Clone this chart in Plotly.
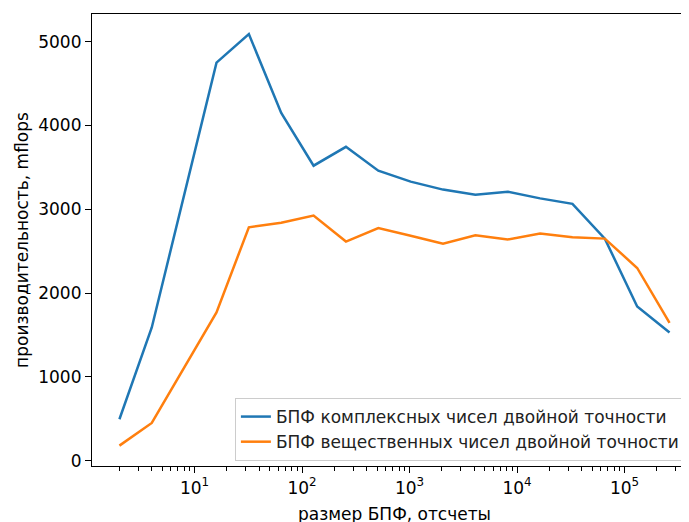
import numpy as np
import plotly.graph_objects as go

fft_sizes = [2, 4, 16, 32, 64, 128, 256, 512, 1024, 2048, 4096, 8192,
             16384, 32768, 65536, 131072, 262144]
complex_mflops = [495, 1590, 4750, 5090, 4150, 3520, 3745, 3460, 3330, 3235,
                  3175, 3210, 3130, 3065, 2650, 1840, 1530]
real_mflops = [180, 450, 1770, 2785, 2840, 2925, 2615, 2775, 2685, 2590,
               2690, 2640, 2710, 2665, 2650, 2300, 1645]

series_names = ["БПФ комплексных чисел двойной точности",
                "БПФ вещественных чисел двойной точности"]
x_tickvals = [10, 100, 1000, 10000, 100000]
x_ticktext = ["10<sup>1</sup>", "10<sup>2</sup>", "10<sup>3</sup>",
              "10<sup>4</sup>", "10<sup>5</sup>"]
y_tickvals = [0, 1000, 2000, 3000, 4000, 5000]

minor_vals = [k * 10 ** n for n in range(0, 6) for k in range(2, 10)]

FONT = "DejaVu Sans"
FS = 17
fig = go.Figure()
fig.add_trace(go.Scatter(x=fft_sizes, y=complex_mflops, mode="lines",
                         name=series_names[0],
                         line=dict(color="#1f77b4", width=2.5)))
fig.add_trace(go.Scatter(x=fft_sizes, y=real_mflops, mode="lines",
                         name=series_names[1],
                         line=dict(color="#ff7f0e", width=2.5)))

fig.update_layout(
    width=689, height=522,
    margin=dict(l=84, r=0, t=6, b=64, autoexpand=False),
    paper_bgcolor="white", plot_bgcolor="white",
    font=dict(family=FONT, size=FS, color="black"),
    showlegend=True,
    legend=dict(x=0.980, y=0.011, xanchor="right", yanchor="bottom",
                bgcolor="rgba(255,255,255,0.8)", bordercolor="#cccccc",
                borderwidth=1, font=dict(family=FONT, size=FS, color="#222"),
                tracegroupgap=0),
    xaxis=dict(type="log", range=[0.046, 5.674], automargin=False,
               tickvals=x_tickvals, ticktext=x_ticktext,
               ticks="outside", ticklen=6, tickwidth=1.2, tickcolor="black",
               showline=True, linecolor="black", linewidth=1.2, mirror=True,
               showgrid=False, zeroline=False,
               minor=dict(tickvals=minor_vals, ticks="outside", ticklen=3.5,
                          tickwidth=1, tickcolor="black", showgrid=False),
               tickfont=dict(family=FONT, size=FS, color="black"),
               title=dict(text="размер БПФ, отсчеты", standoff=11,
                          font=dict(family=FONT, size=FS, color="black"))),
    yaxis=dict(range=[-63, 5330], tickvals=y_tickvals, automargin=False,
               ticks="outside", ticklen=6, tickwidth=1.2, tickcolor="black",
               showline=True, linecolor="black", linewidth=1.2, mirror=False,
               showgrid=False, zeroline=False,
               tickfont=dict(family=FONT, size=FS, color="black"),
               title=dict(text="производительность, mflops", standoff=5,
                          font=dict(family=FONT, size=FS, color="black"))),
)

fig.write_html("out.html")
